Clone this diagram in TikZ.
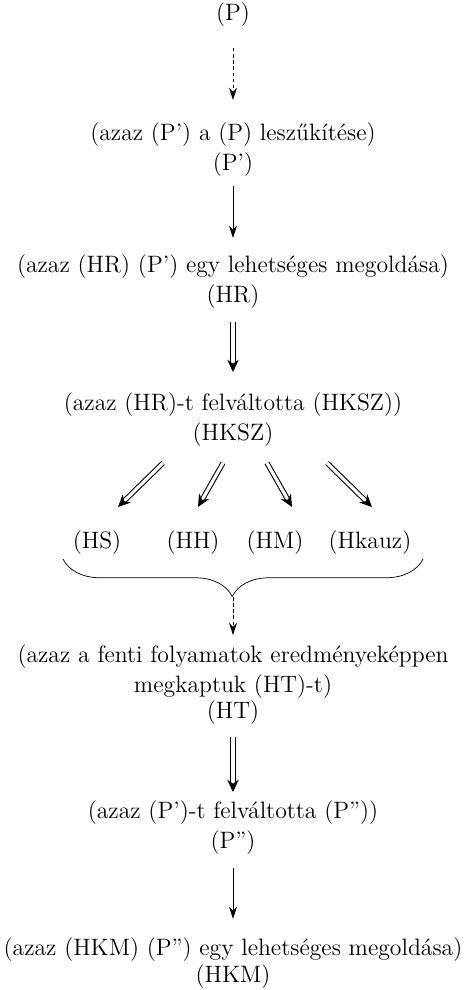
\documentclass[tikz,border=0pt]{standalone}
\usepackage{tikz}
\usetikzlibrary{arrows.meta,decorations.pathreplacing}

\begin{document}
\begin{tikzpicture}[x=0.02cm,y=-0.02cm,
    every node/.style={font=\fontsize{13.5}{17}\selectfont,align=center,inner sep=1pt},
    lep/.style={-{Stealth[length=7pt,width=4.5pt]},line width=0.55pt},
    szaggat/.style={lep,dash pattern=on 2pt off 1.5pt},
    dupla/.style={-{Stealth[length=7pt,width=6.5pt]},double,double distance=1.8pt,line width=0.6pt}]
    \useasboundingbox (0,0) rectangle (466,990); %外框
    \node (p)     at (233,15)  {(P)};
    \node (a1)    at (233,135) {(azaz (P') a (P) leszűkítése)};
    \node (p1)    at (233,165) {(P')};
    \node (a2)    at (233,267) {(azaz (HR) (P') egy lehetséges megoldása)};
    \node (hr)    at (233,297) {(HR)};
    \node (a3)    at (233,405) {(azaz (HR)-t felváltotta (HKSZ))};
    \node (hksz)  at (233,435) {(HKSZ)};
    \node (hs)    at (97,543)  {(HS)};
    \node (hh)    at (193,543) {(HH)};
    \node (hm)    at (275,543) {(HM)};
    \node (hk)    at (370,543) {(Hkauz)};
    \node (a4)    at (233,672) {(azaz a fenti folyamatok eredményeképpen\\ megkaptuk (HT)-t)};
    \node (ht)    at (233,713) {(HT)};
    \node (a5)    at (233,813) {(azaz (P')-t felváltotta (P''))};
    \node (p2)    at (233,843) {(P'')};
    \node (a6)    at (233,950) {(azaz (HKM) (P'') egy lehetséges megoldása)};
    \node (hkm)   at (233,977) {(HKM)};
    \coordinate (k1) at (163,463); \coordinate (v1) at (118,507);
    \coordinate (k2) at (223,463); \coordinate (v2) at (198,507);
    \coordinate (k3) at (267,463); \coordinate (v3) at (292,507);
    \coordinate (k4) at (327,463); \coordinate (v4) at (372,507);
    \coordinate (b1) at (63,559);
    \coordinate (b2) at (423,559);
    \coordinate (bt) at (233,597);
    % nyilak
    \draw[szaggat,shorten <=0.38cm,shorten >=0.42cm] (p) -- (a1);
    \draw[lep,shorten <=0.14cm,shorten >=0.3cm] (p1) -- (a2);
    \draw[dupla,shorten <=0.22cm,shorten >=0.38cm] (hr) -- (a3);
    \foreach \i in {1,...,4}
        \draw[dupla] (k\i) -- (v\i);
    \draw[decorate,decoration={brace,mirror,amplitude=0.75cm,aspect=0.47}] (b1) -- (b2);
    \draw[szaggat,shorten >=0.16cm] (bt) -- (a4);
    \draw[dupla,shorten <=0.2cm,shorten >=0.14cm] (ht) -- (a5);
    \draw[lep,shorten <=0.22cm,shorten >=0.34cm] (p2) -- (a6);
\end{tikzpicture}
\end{document}
